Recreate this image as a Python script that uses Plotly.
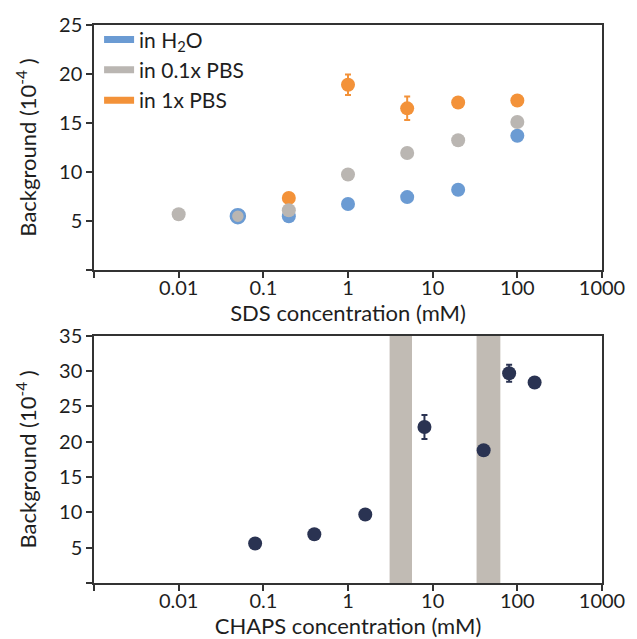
import plotly.graph_objects as go
from plotly.subplots import make_subplots

# SDS panel (top)
sds_h2o_x = [0.05, 0.2, 1, 5, 20, 100]
sds_h2o_y = [5.55, 5.5, 6.75, 7.45, 8.2, 13.7]

sds_01pbs_x = [0.01, 0.05, 0.2, 1, 5, 20, 100]
sds_01pbs_y = [5.7, 5.5, 6.1, 9.75, 11.95, 13.25, 15.1]

sds_1pbs_x = [0.2, 1, 5, 20, 100]
sds_1pbs_y = [7.35, 18.9, 16.5, 17.1, 17.3]
sds_1pbs_err = [0, 1.05, 1.2, 0, 0]

# CHAPS panel (bottom)
chaps_x = [0.08, 0.4, 1.6, 8, 40, 80, 160]
chaps_y = [5.6, 6.9, 9.7, 22.1, 18.8, 29.7, 28.4]
chaps_err = [0, 0, 0, 1.7, 0, 1.2, 0]

bands = [(3.1, 5.7), (33, 63)]

blue = '#6b9bd3'
gray = '#bab6b2'
orange = '#f39239'
navy = '#2a3352'
axcol = '#333333'
txt = '#1e1e1e'
font = 'Lato, Open Sans, sans-serif'

fig = make_subplots(rows=2, cols=1, vertical_spacing=0.118)

fig.add_trace(go.Scatter(x=sds_h2o_x, y=sds_h2o_y, mode='markers', showlegend=False,
    marker={'color': blue, 'size': 14}), row=1, col=1)
fig.add_trace(go.Scatter(x=sds_1pbs_x, y=sds_1pbs_y, mode='markers', showlegend=False,
    marker={'color': orange, 'size': 14},
    error_y={'type': 'data', 'array': sds_1pbs_err, 'color': orange, 'thickness': 2, 'width': 3}),
    row=1, col=1)
fig.add_trace(go.Scatter(x=sds_01pbs_x, y=sds_01pbs_y, mode='markers', showlegend=False,
    marker={'color': gray, 'size': 14,
            'line': {'color': [gray, blue, gray, gray, gray, gray, gray], 'width': [0, 2.5, 0, 0, 0, 0, 0]}}),
    row=1, col=1)

# legend proxies (bar swatches)
for name, col in [('in H<sub>2</sub>O', blue), ('in 0.1x PBS', gray), ('in 1x PBS', orange)]:
    fig.add_trace(go.Scatter(x=[None], y=[None], mode='lines', name=name,
        line={'color': col, 'width': 7}), row=1, col=1)

# shaded bands
for x0, x1 in bands:
    fig.add_shape(type='rect', xref='x2', yref='y2 domain',
                  x0=x0, x1=x1, y0=0, y1=1,
                  fillcolor='#c1bbb4', line_width=0, layer='below')

fig.add_trace(go.Scatter(x=chaps_x, y=chaps_y, mode='markers', showlegend=False,
    marker={'color': navy, 'size': 14},
    error_y={'type': 'data', 'array': chaps_err, 'color': navy, 'thickness': 2, 'width': 3}),
    row=2, col=1)

xticks = [0.001, 0.01, 0.1, 1, 10, 100, 1000]
xtext = ['', '0.01', '0.1', '1', '10', '100', '1000']
axis_style = dict(showline=True, linecolor=axcol, linewidth=1.5, mirror=True,
                  ticks='outside', ticklen=6, tickwidth=1.5, tickcolor=axcol,
                  showgrid=False, zeroline=False,
                  tickfont={'size': 20, 'color': txt})

fig.update_xaxes(type='log', range=[-3, 3], tickvals=xticks, ticktext=xtext,
                 ticklabelstandoff=-7, **axis_style)
fig.update_xaxes(title={'text': 'SDS concentration (mM)', 'font': {'size': 22, 'color': txt}, 'standoff': 0}, row=1, col=1)
fig.update_xaxes(title={'text': 'CHAPS concentration (mM)', 'font': {'size': 22, 'color': txt}, 'standoff': 0}, row=2, col=1)

ytitle = {'text': 'Background (10<sup>-4</sup> )', 'font': {'size': 22, 'color': txt}, 'standoff': 16}
fig.update_yaxes(range=[0, 25], tickvals=[0, 5, 10, 15, 20, 25], ticktext=['', '5', '10', '15', '20', '25'],
                 title=ytitle, row=1, col=1, **axis_style)
fig.update_yaxes(range=[0, 35], tickvals=[0, 5, 10, 15, 20, 25, 30, 35],
                 ticktext=['', '5', '10', '15', '20', '25', '30', '35'],
                 title=ytitle, row=2, col=1, **axis_style)

fig.update_layout(
    width=637, height=639,
    margin={'l': 94, 'r': 24, 't': 23, 'b': 56},
    paper_bgcolor='white', plot_bgcolor='white',
    font={'family': font, 'color': txt},
    legend={'x': 0.01, 'y': 1.01, 'xanchor': 'left', 'yanchor': 'top',
            'font': {'size': 21}, 'itemwidth': 30, 'bgcolor': 'rgba(0,0,0,0)',
            'tracegroupgap': 0},
)
fig.update_yaxes(domain=[0.5607, 1.0], row=1, col=1)
fig.update_yaxes(domain=[0.0, 0.4429], row=2, col=1)

fig.write_html('out.html', config={'displayModeBar': False},
               post_script="document.body.style.margin='0';")
